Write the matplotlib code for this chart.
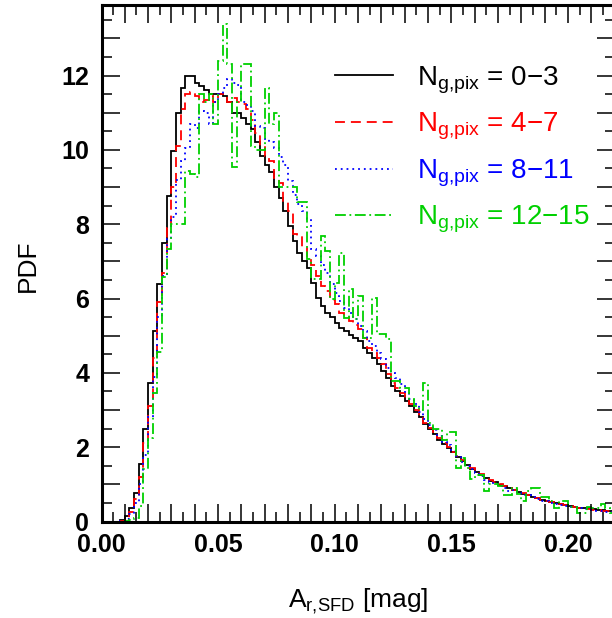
import numpy as np
import matplotlib
matplotlib.use("Agg")
import matplotlib.pyplot as plt
from matplotlib.ticker import MultipleLocator, FuncFormatter

# ---------------- data ----------------
bin_start = 0.0
bin_width = 0.002

pdf_0_3 = [0, 0, 0, 0, 0.03, 0.16, 0.35, 0.78, 1.56, 2.5,
           3.74, 5.13, 6.4, 7.5, 8.76, 9.97, 11.0, 11.67, 12.0, 12.0,
           11.8, 11.72, 11.6, 11.5, 11.5, 11.5, 11.45, 11.3, 11.0, 11.0,
           10.85, 10.7, 10.56, 10.2, 9.84, 9.6, 9.4, 9.0, 8.7, 8.36,
           7.96, 7.55, 7.23, 7.0, 6.83, 6.42, 6.02, 5.8, 5.6, 5.5,
           5.35, 5.2, 5.12, 5.02, 4.95, 4.87, 4.68, 4.54, 4.4, 4.25,
           4.06, 3.87, 3.66, 3.52, 3.39, 3.25, 3.1, 2.95, 2.8, 2.62,
           2.48, 2.36, 2.2, 2.08, 1.98, 1.86, 1.74, 1.62, 1.52, 1.42,
           1.32, 1.25, 1.18, 1.1, 1.05, 0.99, 0.95, 0.9, 0.86, 0.8,
           0.75, 0.7, 0.66, 0.62, 0.58, 0.56, 0.53, 0.5, 0.48, 0.45,
           0.42, 0.39, 0.37, 0.36, 0.35, 0.33, 0.31, 0.3, 0.28, 0.27]

pdf_4_7 = [0, 0, 0, 0, 0.02, 0.1, 0.25, 0.6, 1.2, 2.1,
           3.1, 4.4, 5.9, 6.7, 7.9, 9.0, 10.1, 11.1, 11.5, 11.55,
           11.45, 11.3, 11.35, 11.45, 11.3, 11.5, 11.5, 11.3, 11.4, 11.3,
           11.23, 11.1, 10.8, 10.45, 10.1, 9.84, 9.7, 9.25, 9.1, 8.6,
           8.36, 7.74, 7.69, 7.4, 7.1, 6.9, 6.6, 6.34, 6.2, 5.95,
           5.86, 5.6, 5.5, 5.4, 5.3, 5.19, 4.95, 4.68, 4.54, 4.4,
           4.25, 3.97, 3.74, 3.6, 3.45, 3.3, 3.15, 3.0, 2.85, 2.66,
           2.52, 2.4, 2.25, 2.12, 2.0, 1.88, 1.76, 1.65, 1.55, 1.45,
           1.35, 1.27, 1.19, 1.12, 1.06, 1.0, 0.96, 0.9, 0.85, 0.8,
           0.76, 0.71, 0.66, 0.62, 0.59, 0.55, 0.52, 0.5, 0.47, 0.44,
           0.42, 0.4, 0.37, 0.35, 0.34, 0.32, 0.3, 0.29, 0.27, 0.26]

pdf_8_11 = [0, 0, 0, 0, 0.01, 0.06, 0.2, 0.5, 1.0, 1.8,
            2.8, 3.9, 5.5, 6.6, 7.6, 8.2, 9.2, 9.7, 10.05, 10.7,
            10.6, 11.05, 11.0, 10.7, 11.3, 11.5, 11.67, 11.9, 11.8, 11.75,
            11.3, 11.2, 11.05, 10.65, 10.6, 10.3, 10.2, 10.05, 9.8, 9.6,
            9.17, 8.8, 8.55, 8.36, 8.15, 7.34, 7.15, 6.9, 6.7, 6.4,
            6.16, 5.94, 5.75, 5.62, 5.45, 5.27, 5.13, 4.87, 4.73, 4.54,
            4.38, 4.14, 4.0, 3.87, 3.7, 3.47, 3.3, 3.15, 2.95, 2.75,
            2.6, 2.45, 2.3, 2.15, 2.05, 1.9, 1.75, 1.6, 1.5, 1.4,
            1.3, 1.22, 1.12, 1.05, 1.0, 0.95, 0.9, 0.82, 0.85, 0.78,
            0.72, 0.7, 0.65, 0.6, 0.55, 0.55, 0.5, 0.47, 0.45, 0.42,
            0.4, 0.38, 0.36, 0.33, 0.32, 0.3, 0.29, 0.27, 0.26, 0.25]

pdf_12_15 = [0, 0, 0, 0, 0, 0.02, 0.05, 0.1, 0.43, 1.42,
             2.26, 3.47, 4.55, 6.57, 7.34, 8.0, 8.0, 8.0, 9.43, 9.35,
             9.26, 11.5, 11.3, 11.5, 10.7, 12.4, 13.4, 12.3, 9.55, 11.3,
             12.3, 12.3, 10.1, 10.0, 10.0, 11.67, 10.7, 11.0, 9.0, 9.0,
             9.0, 9.0, 8.6, 8.6, 7.07, 6.53, 6.53, 7.69, 7.28, 6.0,
             6.42, 7.23, 5.48, 6.26, 5.45, 6.07, 4.95, 4.95, 6.02, 5.05,
             5.05, 4.92, 3.79, 3.79, 3.58, 3.58, 3.3, 3.1, 3.0, 3.74,
             2.66, 2.5, 2.5, 2.18, 2.4, 2.4, 1.45, 1.72, 1.45, 1.15,
             1.24, 1.24, 0.83, 1.02, 1.0, 0.95, 0.7, 0.7, 0.89, 0.75,
             0.56, 0.83, 0.89, 0.89, 0.65, 0.65, 0.56, 0.35, 0.56, 0.56,
             0.38, 0.38, 0.24, 0.24, 0.38, 0.35, 0.35, 0.48, 0.35, 0.24]

series = [
    (pdf_0_3, "0\u22123", "black", "-"),
    (pdf_4_7, "4\u22127", "#ff0000", (0, (5.5, 3.3))),
    (pdf_8_11, "8\u221211", "#0000ff", (0, (1, 2.2))),
    (pdf_12_15, "12\u221215", "#00d000", (0, (6, 2, 1, 2))),
]

x_range = (0.0, 0.22)
y_range = (0.0, 13.9)

# ---------------- plot ----------------
plt.rcParams["font.family"] = ["Liberation Sans", "DejaVu Sans"]
plt.rcParams["mathtext.fontset"] = "custom"
plt.rcParams["mathtext.rm"] = "Liberation Sans"
plt.rcParams["mathtext.it"] = "Liberation Sans:italic"
plt.rcParams["mathtext.bf"] = "Liberation Sans:bold"

fig = plt.figure(figsize=(6.12, 6.18), dpi=100)
ax = fig.add_axes([101.5 / 612, 1 - 521.5 / 618, 513.3 / 612, 516.5 / 618])

for vals, lab, col, ls in series:
    n = len(vals)
    edges = bin_start + bin_width * np.arange(n + 1)
    ax.stairs(vals, edges, color=col, linestyle=ls, linewidth=1.3,
              label=r"N$_{\rm g{,}pix}$ = " + lab)

ax.set_xlim(*x_range)
ax.set_ylim(*y_range)

for s in ax.spines.values():
    s.set_linewidth(2.2)

ax.xaxis.set_major_locator(MultipleLocator(0.01))
ax.xaxis.set_minor_locator(MultipleLocator(0.005))
ax.yaxis.set_major_locator(MultipleLocator(1))
ax.yaxis.set_minor_locator(MultipleLocator(0.5))

def xfmt(v, pos):
    k = round(v / 0.01)
    return f"{v:.2f}" if k % 5 == 0 else ""

def yfmt(v, pos):
    k = round(v)
    return f"{k:d}" if k % 2 == 0 else ""

ax.xaxis.set_major_formatter(FuncFormatter(xfmt))
ax.yaxis.set_major_formatter(FuncFormatter(yfmt))

ax.tick_params(which="both", direction="in", top=True, right=True, width=1.1)
ax.tick_params(which="major", length=13)
ax.tick_params(which="minor", length=7)
ax.tick_params(axis="x", which="major", labelsize=18, pad=8.5)
ax.tick_params(axis="y", which="major", labelsize=18, pad=9)
for lbl in ax.get_xticklabels() + ax.get_yticklabels():
    lbl.set_fontweight("bold")

ax.set_xlabel(r"A$_{\rm r{,}SFD}$ [mag]", fontsize=19)
ax.set_ylabel("PDF", fontsize=19)
ax.xaxis.set_label_coords(0.5, -0.127)
ax.yaxis.set_label_coords(-0.12, 0.495)

leg = ax.legend(loc="upper left", bbox_to_anchor=(0.455, 0.885), frameon=False,
                fontsize=20, handlelength=2.1, handletextpad=0.85,
                labelspacing=0.55, borderpad=0, borderaxespad=0,
                labelcolor="linecolor")

fig.savefig("out.png", dpi=100)
